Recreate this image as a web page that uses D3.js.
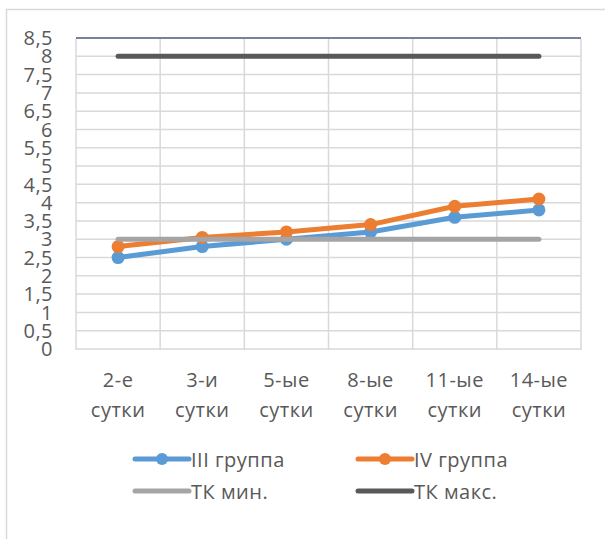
<!DOCTYPE html>
<html>
<head>
<meta charset="utf-8">
<script src="https://cdn.jsdelivr.net/npm/d3@7"></script>
<style>
  html, body { margin: 0; padding: 0; background: #fff; }
  svg { display: block; }
  text { font-family: "Open Sans", "Noto Sans", sans-serif; fill: #595959; letter-spacing: 0.5px; }
</style>
</head>
<body>
<svg id="chart" width="605" height="539"></svg>
<script>
// Days of observation
const categories = [["2-е", "сутки"], ["3-и", "сутки"], ["5-ые", "сутки"], ["8-ые", "сутки"], ["11-ые", "сутки"], ["14-ые", "сутки"]];
// Group measurements
const group3 = [2.5, 2.8, 3.0, 3.2, 3.6, 3.8];
const group4 = [2.8, 3.05, 3.2, 3.4, 3.9, 4.1];
// Reference range bounds
const tkMin = [3, 3, 3, 3, 3, 3];
const tkMax = [8, 8, 8, 8, 8, 8];
const yTicks = [0, 0.5, 1, 1.5, 2, 2.5, 3, 3.5, 4, 4.5, 5, 5.5, 6, 6.5, 7, 7.5, 8, 8.5];

const series = [
  { name: "III группа", values: group3, color: "#5b9bd5", marker: true },
  { name: "IV группа", values: group4, color: "#ed7d31", marker: true },
  { name: "ТК мин.", values: tkMin, color: "#a5a5a5", marker: false },
  { name: "ТК макс.", values: tkMax, color: "#595959", marker: false }
];

const svg = d3.select("#chart");
const plot = { left: 76, right: 581, top: 38, bottom: 349 };

// outer chart frame
svg.append("rect")
  .attr("x", 6.5).attr("y", 9.5).attr("width", 620).attr("height", 560)
  .attr("fill", "none").attr("stroke", "#d9d9d9").attr("stroke-width", 1.5);

const x = d3.scaleBand()
  .domain(d3.range(categories.length))
  .range([plot.left, plot.right]);
const y = d3.scaleLinear().domain([0, 8.5]).range([plot.bottom, plot.top]);

// horizontal gridlines
svg.append("g").selectAll("line").data(yTicks).join("line")
  .attr("x1", plot.left).attr("x2", plot.right)
  .attr("y1", d => y(d)).attr("y2", d => y(d))
  .attr("stroke", d => d === 8.5 ? "#4a5a7c" : "#d9d9d9")
  .attr("stroke-width", 1.5);

// vertical gridlines between categories
const bounds = d3.range(categories.length + 1).map(i => plot.left + i * x.bandwidth());
svg.append("g").selectAll("line").data(bounds).join("line")
  .attr("x1", d => d).attr("x2", d => d)
  .attr("y1", y(8.5) + 1).attr("y2", plot.bottom + 1)
  .attr("stroke", "#d9d9d9").attr("stroke-width", 1.5);

// y-axis labels
svg.append("g").selectAll("text").data(yTicks).join("text")
  .attr("x", 53).attr("y", d => y(d))
  .attr("dy", "0.36em")
  .attr("text-anchor", "end")
  .attr("font-size", 20)
  .text(d => String(d).replace(".", ","));

// x-axis labels
const xl = svg.append("g").selectAll("text").data(categories).join("text")
  .attr("text-anchor", "middle")
  .attr("font-size", 20);
xl.append("tspan").attr("x", (d, i) => x(i) + x.bandwidth() / 2).attr("y", 387).text(d => d[0]);
xl.append("tspan").attr("x", (d, i) => x(i) + x.bandwidth() / 2).attr("y", 417).text(d => d[1]);

const line = d3.line()
  .x((d, i) => x(i) + x.bandwidth() / 2)
  .y(d => y(d));

series.forEach(s => {
  svg.append("path")
    .attr("d", line(s.values))
    .attr("fill", "none")
    .attr("stroke", s.color)
    .attr("stroke-width", 5)
    .attr("stroke-linecap", "round")
    .attr("stroke-linejoin", "round");
  if (s.marker) {
    svg.append("g").selectAll("circle").data(s.values).join("circle")
      .attr("cx", (d, i) => x(i) + x.bandwidth() / 2)
      .attr("cy", d => y(d))
      .attr("r", 6.5)
      .attr("fill", s.color);
  }
});

// legend
const legendPos = [
  { x: 135, y: 459 }, { x: 358, y: 459 },
  { x: 135, y: 491 }, { x: 358, y: 491 }
];
series.forEach((s, i) => {
  const p = legendPos[i];
  const g = svg.append("g").attr("transform", `translate(${p.x},${p.y})`);
  g.append("line").attr("x1", 0).attr("x2", 54).attr("y1", 0).attr("y2", 0)
    .attr("stroke", s.color).attr("stroke-width", 5).attr("stroke-linecap", "round");
  if (s.marker) g.append("circle").attr("cx", 27).attr("cy", 0).attr("r", 6).attr("fill", s.color);
  g.append("text").attr("x", 56).attr("y", 1).attr("dy", "0.36em")
    .attr("font-size", 20).text(s.name);
});
</script>
</body>
</html>
